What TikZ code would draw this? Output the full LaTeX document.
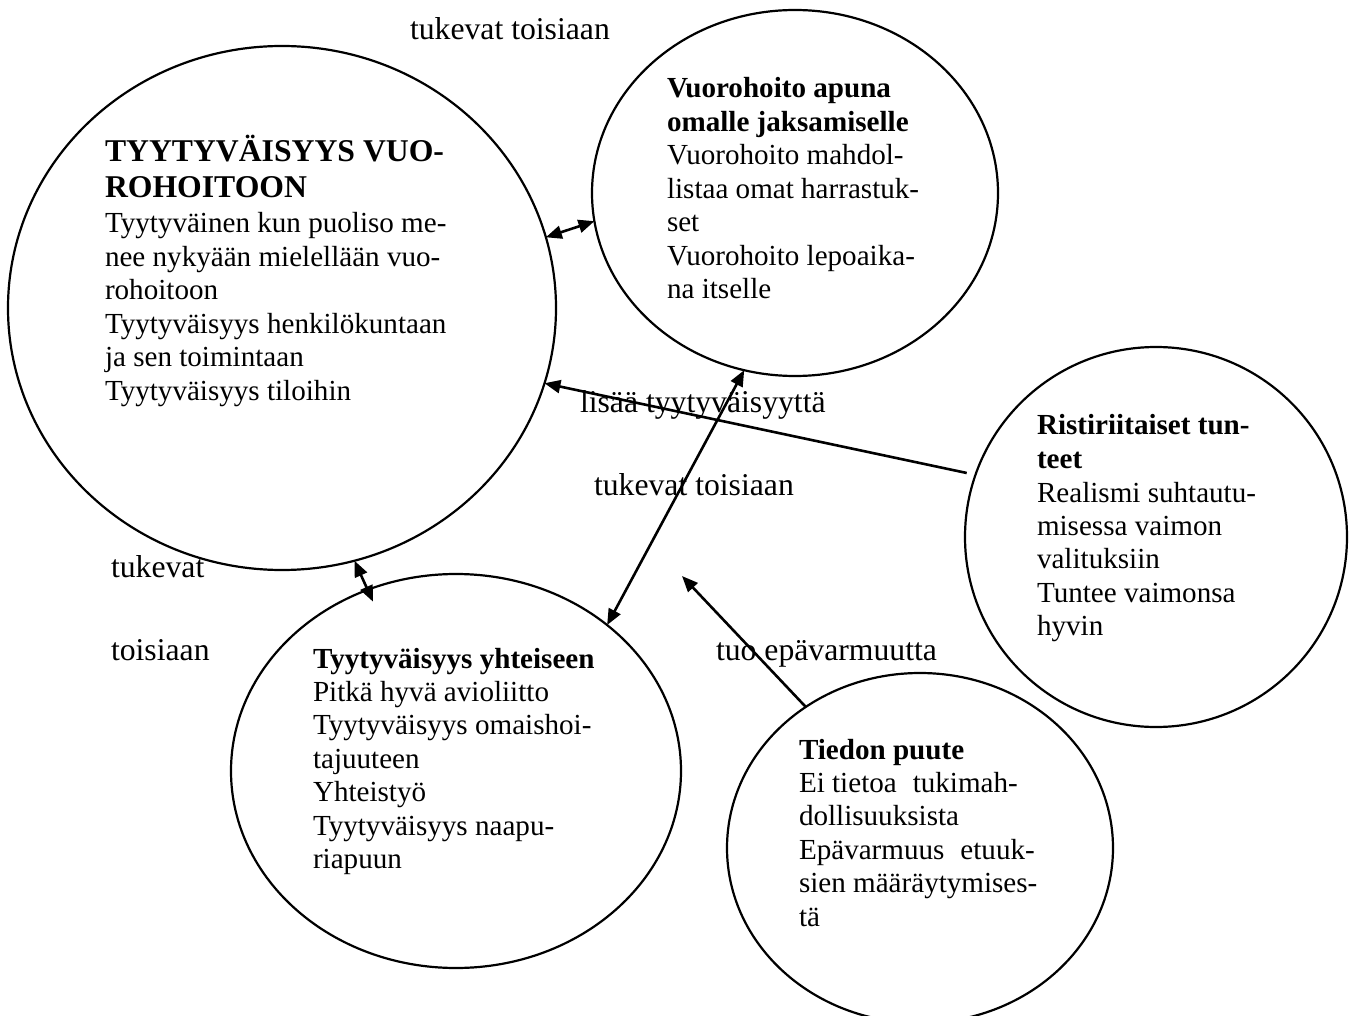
\documentclass[tikz,border=0pt]{standalone}
\usepackage{fontspec}
\setmainfont{Liberation Serif}
\usetikzlibrary{shapes.geometric,arrows.meta}
\newcommand\stackl[2]{\vtop{\baselineskip=#1\lineskiplimit=-100pt\lineskip=0pt\halign{##\hfil\cr#2\crcr}}}
\begin{document}
\begin{tikzpicture}[x=1pt,y=-1pt,
  bubble/.style={draw, ellipse, line width=2.2pt, inner sep=0pt, outer sep=0pt},
  txt/.style={anchor=base west, inner sep=0pt, outer sep=0pt, font=\fontsize{29.1}{33.5}\selectfont},
  ttl/.style={anchor=base west, inner sep=0pt, outer sep=0pt, font=\fontsize{31.7}{36}\selectfont\bfseries},
  lbl/.style={anchor=base west, inner sep=0pt, outer sep=0pt, font=\fontsize{31.7}{36}\selectfont},
  conn/.style={line width=2.6pt, -{Triangle[length=16pt,width=13pt]}},
  biconn/.style={line width=2.6pt, {Triangle[length=16pt,width=13pt]}-{Triangle[length=16pt,width=13pt]}}]
\useasboundingbox[fill=white] (0,0) rectangle (1350,1016);

% circles
\node[bubble, minimum width=548pt, minimum height=524pt] (A) at (282,308) {};
\node[bubble, minimum width=406pt, minimum height=366pt] (B) at (795,193) {};
\node[bubble, minimum width=382pt, minimum height=380pt] (C) at (1156,537) {};
\node[bubble, minimum width=450pt, minimum height=394pt] (D) at (456,771) {};
\node[bubble, minimum width=386pt, minimum height=350pt] (E) at (920,848) {};

% texts
\node[ttl] (Atitle) at (105,162) {\stackl{36pt}{TYYTYVÄISYYS VUO-\cr ROHOITOON}};
\node[txt] (Abody) at (105,233) {\stackl{33.5pt}{Tyytyväinen kun puoliso me-\cr nee nykyään mielellään vuo-\cr rohoitoon\cr Tyytyväisyys henkilökuntaan\cr ja sen toimintaan\cr Tyytyväisyys tiloihin}};
\node[txt] (Btext) at (667,98) {\stackl{33.5pt}{\bfseries Vuorohoito apuna\cr \bfseries omalle jaksamiselle\cr Vuorohoito mahdol-\cr listaa omat harrastuk-\cr set\cr Vuorohoito lepoaika-\cr na itselle}};
\node[txt] (Ctext) at (1037,435) {\stackl{33.5pt}{\bfseries Ristiriitaiset tun-\cr \bfseries teet\cr Realismi suhtautu-\cr misessa vaimon\cr valituksiin\cr Tuntee vaimonsa\cr hyvin}};
\node[txt] (Dtext) at (313,668) {\stackl{33.4pt}{\bfseries Tyytyväisyys yhteiseen\cr Pitkä hyvä avioliitto\cr Tyytyväisyys omaishoi-\cr tajuuteen\cr Yhteistyö\cr Tyytyväisyys naapu-\cr riapuun}};
\node[txt] (Etext) at (799,759) {\stackl{33.4pt}{\bfseries Tiedon puute\cr Ei tietoa\hspace{16pt}tukimah-\cr dollisuuksista\cr Epävarmuus\hspace{16pt}etuuk-\cr sien määräytymises-\cr tä}};

% labels
\node[lbl] (L1) at (410,40) {tukevat toisiaan};
\node[lbl] (L2) at (580,413) {lisää tyytyväisyyttä};
\node[lbl] (L3) at (594,495) {tukevat toisiaan};
\node[lbl] (L4) at (111,577) {tukevat};
\node[lbl] (L5) at (111,660) {toisiaan};
\node[lbl] (L6) at (716,660) {tuo epävarmuutta};

% connectors
\coordinate (Etip) at (682,576);
\draw[biconn] (A.15) -- (B.188);
\draw[conn, shorten <=9pt] (C.161) -- (A.344);
\draw[biconn] (B.254) -- (D.44);
\draw[biconn, shorten >=-13pt] (A.286) -- (D.116);
\draw[conn] (E.129) -- (Etip);
\end{tikzpicture}
\end{document}
